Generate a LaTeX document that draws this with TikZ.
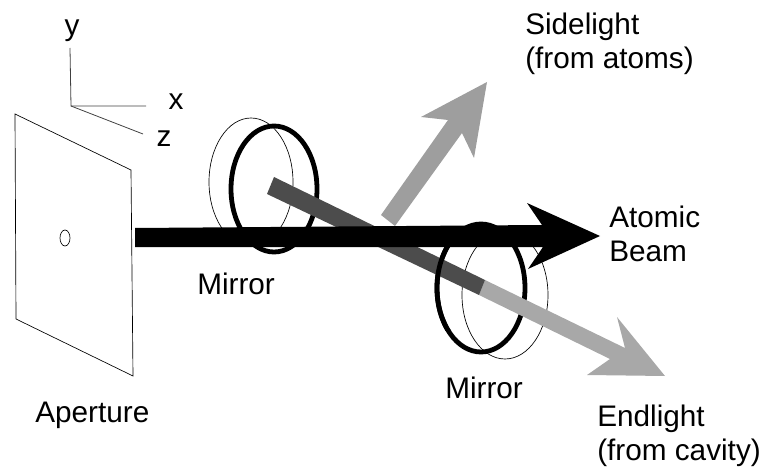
\documentclass[tikz,border=0pt]{standalone}
\usepackage{fontspec}
\setmainfont{Liberation Sans}
\definecolor{darkbar}{gray}{0.3}
\definecolor{lightbar}{gray}{0.66}
\definecolor{sidebar}{gray}{0.62}
\tikzset{
  px/.style={x=0.75pt,y=-0.75pt},
  thinline/.style={draw=black,line width=0.5pt},
  axisline/.style={draw=black!75,line width=0.6pt},
  ring/.style={draw=black,line width=3.6pt},
  label/.style={font=\fontsize{22.3}{25.5}\selectfont,inner sep=0pt,align=left},
}
\begin{document}
\begin{tikzpicture}[px]
\useasboundingbox (0,0) rectangle (765,467);
% axes
\coordinate (o) at (71,106);
\coordinate (ya) at (70,48);
\coordinate (xa) at (146,106);
\coordinate (za) at (143,134);
\draw[axisline] (ya) -- (o) -- (xa);
\draw[axisline] (o) -- (za);
\node[label] (ly) at (72,31) {y};
\node[label] (lx) at (176,102) {x};
\node[label] (lz) at (164,139) {z};
% aperture
\draw[thinline] (15,114) -- (131,170) -- (133,376) -- (16,319) -- cycle;
\draw[thinline] (65,238) ellipse [x radius=5,y radius=8];
% left mirror
\draw[thinline] (251,182) ellipse [x radius=42,y radius=64];
\draw[ring] (274,189) ellipse [x radius=43,y radius=63];
% right mirror
\draw[thinline] (505,295) ellipse [x radius=43,y radius=64];
\draw[ring] (481,288) ellipse [x radius=44,y radius=64];
% side arrow
\fill[sidebar] (381,215) -- (448,120) -- (421,117) -- (487,82) -- (474,158) -- (462,133) -- (395,226) -- cycle;
% end light
\fill[lightbar] (485,280) -- (625,348) -- (617,317) -- (665,376) -- (587,375) -- (610,359) -- (479,295) -- cycle;
\fill[darkbar] (274,177) -- (485,280) -- (479,295) -- (267,194) -- cycle;
% ring left part over bar
\begin{scope}
\clip (430,240) rectangle (470,330);
\draw[ring] (481,288) ellipse [x radius=44,y radius=64];
\end{scope}
% beam
\fill[black] (135,228) -- (542,225) -- (527,203) -- (600,236) -- (528,269) -- (543,247) -- (135,247) -- cycle;
% labels
\node[label,anchor=west] (side) at (525,44) {Sidelight\\(from atoms)};
\node[label,anchor=west] (beam) at (609,234) {Atomic\\Beam};
\node[label,anchor=west] (m1) at (197,284) {Mirror};
\node[label,anchor=west] (m2) at (445,388) {Mirror};
\node[label,anchor=west] (ap) at (35,415) {Aperture};
\node[label,anchor=west] (end) at (597,436) {Endlight\\(from cavity)};
\end{tikzpicture}
\end{document}
